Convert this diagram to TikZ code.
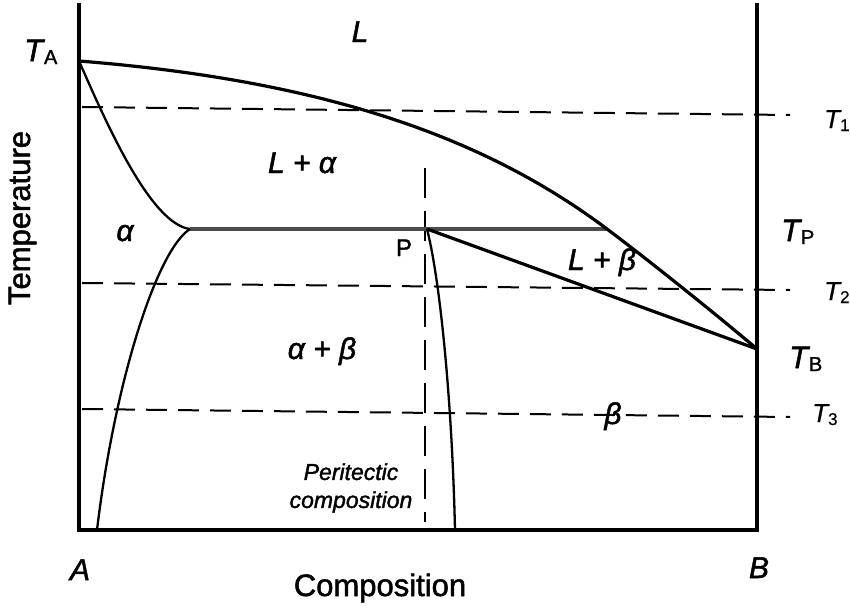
\documentclass[tikz,border=0pt]{standalone}
\usepackage{fontspec}
\setmainfont{Liberation Sans}[FakeBold=1.6]
\newfontfamily\thinsans{Liberation Sans}[FakeBold=0.6]
\newcommand{\TLab}[1]{\textit{T}\kern-1pt\raisebox{-3pt}{\fontsize{20}{20}\selectfont #1}}
\newcommand{\TLabS}[1]{{\thinsans\textit{T}\kern-1.5pt\raisebox{-3pt}{\fontsize{17}{17}\selectfont #1}}}
\begin{document}
\begin{tikzpicture}[x=1pt,y=-1pt,
  axisline/.style={line width=4.2pt,line join=miter},
  liq/.style={line width=3.2pt,line join=round},
  thincurve/.style={line width=2.3pt},
  peri/.style={line width=3.8pt,draw=black!70},
  dashline/.style={line width=2pt,dash pattern=on 21pt off 11pt},
  vdash/.style={line width=2pt,dash pattern=on 30pt off 13pt},
  region/.style={font=\fontsize{30}{30}\selectfont\itshape,inner sep=0pt,anchor=base},
  tbig/.style={font=\fontsize{31}{31}\selectfont,inner sep=0pt,anchor=base west},
  tsmall/.style={font=\fontsize{26}{26}\selectfont,inner sep=0pt,anchor=base west},
  axislabel/.style={font=\fontsize{31}{31}\selectfont,inner sep=0pt,anchor=base}]
\useasboundingbox (0,0) rectangle (850,608);
% key points
\coordinate (Atop) at (79,3);
\coordinate (Abot) at (79,530);
\coordinate (Bbot) at (757,530);
\coordinate (Btop) at (757,3);
\coordinate (TA) at (79,61);
\coordinate (E) at (190,229);
\coordinate (P) at (427,229);
\coordinate (Q) at (607,229);
\coordinate (TB) at (757,349);
\coordinate (Sa) at (97,530);
\coordinate (Sb) at (455,530);
% dashed isotherms
\draw[dashline] (82,107) coordinate (d1a) -- (790,115) coordinate (d1b);
\draw[dashline] (82,283) coordinate (d2a) -- (790,290) coordinate (d2b);
\draw[dashline] (82,409) coordinate (d3a) -- (790,417) coordinate (d3b);
% peritectic composition line
\draw[vdash] (425,168) coordinate (v1) -- (425,522) coordinate (v2);
% peritectic horizontal
\draw[peri] (E) -- (Q);
% liquidus
\draw[liq] (TA) .. controls (329,81) and (487,139) .. (Q)
               .. controls (647,259) and (717,315) .. (TB);
% alpha solidus
\draw[thincurve] (TA) .. controls (105,120) and (150,224) .. (E);
% alpha solvus
\draw[thincurve] (E) .. controls (157,250) and (115,380) .. (Sa);
% beta solvus
\draw[thincurve] (P) .. controls (440,280) and (452,400) .. (Sb);
% beta liquidus-solidus line
\draw[liq] (P) -- (TB);
% axes
\draw[axisline] (Atop) -- (Abot) -- (Bbot) -- (Btop);
% labels
\node[region] (lL) at (360,42) {L};
\node[region] (lLa) at (302,173) {L + α};
\node[region] (la) at (125,241) {α};
\node[region] (lab) at (322,359) {α + β};
\node[region] (lLb) at (602,270) {L + β};
\node[region] (lb) at (613,424) {β};
\node[inner sep=0pt,anchor=base,font=\fontsize{24}{24}\selectfont] (lP) at (404,256) {P};
\node[tbig] (tA) at (24,61) {\TLab{A}};
\node[tbig] (tP) at (781,241) {\TLab{P}};
\node[tbig] (tB) at (789,368) {\TLab{B}};
\node[tsmall] (t1) at (824,128) {\TLabS{1}};
\node[tsmall] (t2) at (824,300) {\TLabS{2}};
\node[tsmall] (t3) at (812,422) {\TLabS{3}};
\node[region] (nA) at (80,580) {A};
\node[region] (nB) at (759,578) {B};
\node[axislabel] (comp) at (380,596) {Composition};
\node[axislabel,rotate=90] (temp) at (30,218) {Temperature};
\node[inner sep=0pt,align=center,font=\fontsize{23}{28}\selectfont\itshape] (pc) at (351,488) {Peritectic\\composition};
\end{tikzpicture}
\end{document}
